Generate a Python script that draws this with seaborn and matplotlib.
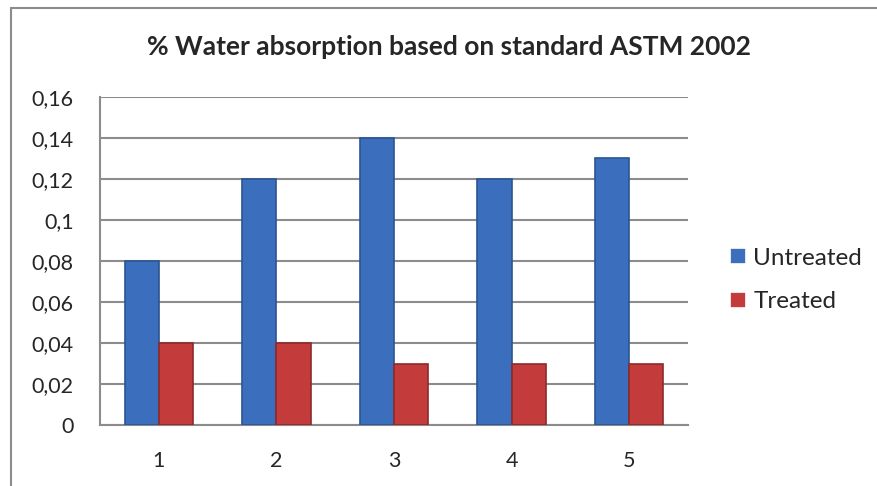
import matplotlib
matplotlib.use("Agg")
import matplotlib.pyplot as plt
import seaborn as sns
import pandas as pd
from matplotlib.lines import Line2D

categories = ["1", "2", "3", "4", "5"]
untreated = [0.08, 0.12, 0.14, 0.12, 0.13]
treated = [0.04, 0.04, 0.03, 0.03, 0.03]
series_names = ["Untreated", "Treated"]
yticks = [0, 0.02, 0.04, 0.06, 0.08, 0.10, 0.12, 0.14, 0.16]
ytick_labels = ["0", "0,02", "0,04", "0,06", "0,08", "0,1", "0,12", "0,14", "0,16"]

df = pd.DataFrame({
    "cat": categories * 2,
    "val": untreated + treated,
    "series": [series_names[0]] * 5 + [series_names[1]] * 5,
})

sns.set_theme(style="white")
plt.rcParams["font.family"] = ["Lato", "DejaVu Sans"]

W, H = 877, 486
fig = plt.figure(figsize=(W / 100, H / 100), dpi=100)
ax = fig.add_axes([100 / W, (H - 425) / H, 588 / W, 328 / H])

palette = {"Untreated": "#3b6fbd", "Treated": "#c33b3a"}
sns.barplot(data=df, x="cat", y="val", hue="series", palette=palette,
            width=0.58, ax=ax, saturation=1, zorder=3, linewidth=1.2)
edge = {0: "#2b5592", 1: "#8e2a2a"}
for i, cont in enumerate(ax.containers):
    for b in cont:
        b.set_edgecolor(edge[i])

ax.set_ylim(0, 0.16)
ax.set_yticks(yticks)
ax.set_yticklabels(ytick_labels, fontsize=15.5)
ax.tick_params(axis="x", labelsize=15.5, pad=19, length=0)
ax.tick_params(axis="y", pad=19, length=0)
ax.yaxis.grid(True, color="#8c8c8c", linewidth=1.5, zorder=0)
ax.set_axisbelow(True)
ax.set_xlabel("")
ax.set_ylabel("")
for s in ["top", "right"]:
    ax.spines[s].set_visible(False)
for s in ["left", "bottom"]:
    ax.spines[s].set_color("#8c8c8c")
    ax.spines[s].set_linewidth(1.5)

leg = ax.legend(loc="center left", bbox_to_anchor=(730 / W, (H - 280) / H),
                bbox_transform=fig.transFigure, frameon=False,
                fontsize=17.5, handlelength=0.66, handleheight=0.66,
                handletextpad=0.3, labelspacing=0.93, borderpad=0, borderaxespad=0)

fig.text(449 / W, (H - 47) / H, "% Water absorption based on standard ASTM 2002",
         ha="center", va="center", fontsize=19, fontweight="bold")

fig.lines.append(Line2D([10.5 / W, 10.5 / W], [0, (H - 8) / H], transform=fig.transFigure,
                        color="#8c8c8c", linewidth=1.5))
fig.lines.append(Line2D([10.5 / W, 1], [(H - 8) / H, (H - 8) / H], transform=fig.transFigure,
                        color="#8c8c8c", linewidth=1.5))

fig.savefig("out.png", dpi=100)
